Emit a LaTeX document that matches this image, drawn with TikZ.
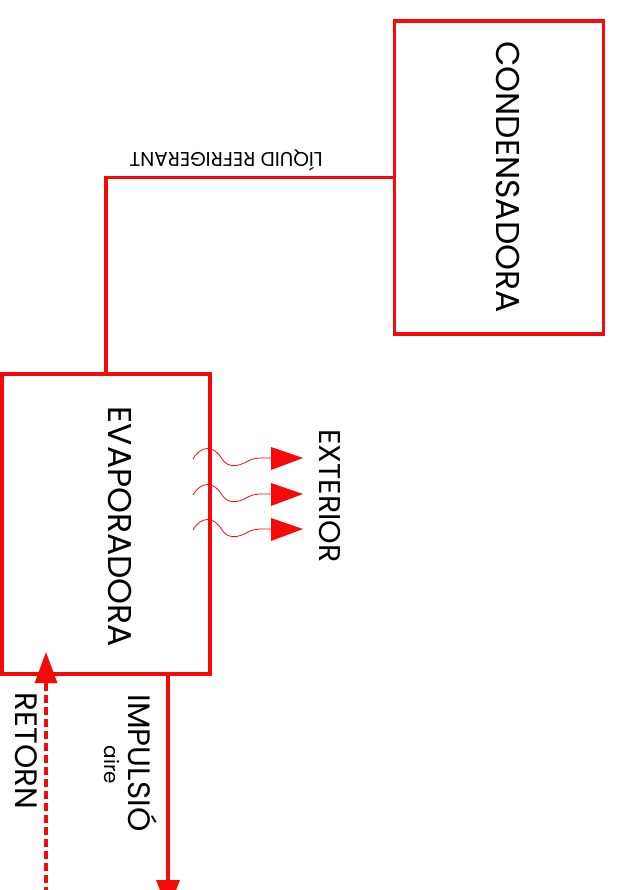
\documentclass[tikz,border=0pt]{standalone}
\usepackage{fontspec}
\setmainfont{Poppins}
\usetikzlibrary{arrows.meta}
\definecolor{rd}{RGB}{245,10,10}
\begin{document}
\begin{tikzpicture}[x=1pt,y=-1pt,
  box/.style={draw=rd,line width=3.2pt,inner sep=0pt},
  pipe/.style={draw=rd,line width=3.2pt},
  lbl/.style={inner sep=0pt,font=\fontsize{33}{33}\selectfont,rotate=-90},
  wave/.style={draw=rd,line width=0.8pt}]
\useasboundingbox (0,0) rectangle (620,890);
\clip (0,0) rectangle (620,890);
\node[box,minimum width=209pt,minimum height=313pt] (cond) at (499,177.5) {};
\node[box,minimum width=208pt,minimum height=300pt] (evap) at (106,524) {};
\node[lbl] (condt) at (508,177) {CONDENSADORA};
\node[lbl] (evapt) at (120,527) {EVAPORADORA};
\node[lbl,font=\fontsize{30}{30}\selectfont] (ext) at (330,496) {EXTERIOR};
\node[lbl,font=\fontsize{31}{31}\selectfont] (imp) at (143,763) {IMPULSIÓ};
\node[lbl,font=\fontsize{20}{20}\selectfont] (aire) at (112,765) {aire};
\node[lbl,font=\fontsize{31}{31}\selectfont] (ret) at (26,751) {RETORN};
\node[inner sep=0pt,font=\fontsize{20}{20}\selectfont,rotate=180] (liq) at (226,160) {LÍQUID REFRIGERANT};
\draw[pipe] (cond.west) -| (evap.north);
\coordinate (impEnd) at (168,911);
\draw[pipe,-{Triangle[width=23pt,length=31pt]}] (evap.south -| impEnd) -- (impEnd);
\coordinate (retStart) at (46,895);
\coordinate (retTip) at (46,652);
\draw[pipe,dash pattern=on 8pt off 4pt,-{Triangle[width=22pt,length=31pt]}] (retStart) -- (retTip);
\foreach \yc in {459,495,530}{
  \draw[wave] (193,\yc) .. controls (201,\yc-14) and (214,\yc-14) .. (222,\yc)
    .. controls (228,\yc+9) and (238,\yc+8) .. (248,\yc+2)
    .. controls (256,\yc-2) and (262,\yc-1) .. (272,\yc-1);
  \fill[rd] (271,\yc-12) -- (303,\yc-1) -- (271,\yc+11) -- cycle;
}
\end{tikzpicture}
\end{document}
